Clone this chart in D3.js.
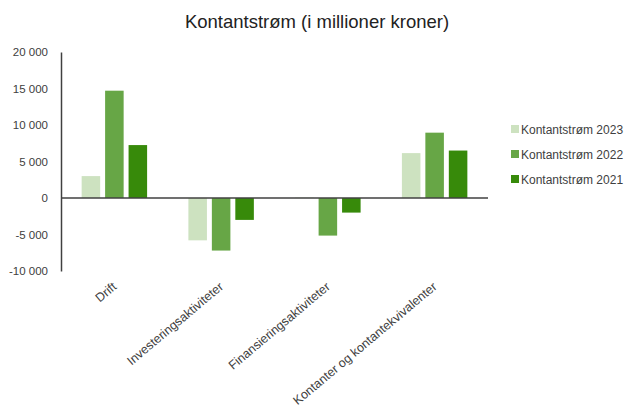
<!DOCTYPE html>
<html>
<head>
<meta charset="utf-8">
<script src="https://cdn.jsdelivr.net/npm/d3@7"></script>
<style>
  body { margin: 0; background: #fff; }
  text { font-family: "Liberation Sans", Arial, sans-serif; }
</style>
</head>
<body>
<svg id="chart" width="627" height="407"></svg>
<script>
var categories = ["Drift", "Investeringsaktiviteter", "Finansieringsaktiviteter", "Kontanter og kontantekvivalenter"];
var seriesNames = ["Kontantstrøm 2023", "Kontantstrøm 2022", "Kontantstrøm 2021"];
var values2023 = [3000, -5800, 50, 6150];
var values2022 = [14700, -7200, -5150, 8950];
var values2021 = [7250, -3000, -2000, 6500];
var yTicks = [-10000, -5000, 0, 5000, 10000, 15000, 20000];
var colors = ["#cde2c0", "#67a646", "#378a0a"];

var series = [values2023, values2022, values2021];

var svg = d3.select("#chart");
var margin = {top: 52, left: 61, right: 139, bottom: 136};
var w = 627 - margin.left - margin.right;
var h = 407 - margin.top - margin.bottom;

var g = svg.append("g").attr("transform", "translate(" + margin.left + "," + margin.top + ")");

var x0 = d3.scaleBand().domain(categories).range([0, w]).padding(0);
var x1 = d3.scaleBand().domain(d3.range(series.length)).range([0, x0.bandwidth()])
  .paddingInner(0.21).paddingOuter(0.88);
var y = d3.scaleLinear().domain([-10000, 20000]).range([h, 0]);

var fmt = function(d) { return d3.format(",")(d).replace(/,/g, " ").replace("−", "-"); };

// y axis
var yAxis = g.append("g").call(d3.axisLeft(y).tickValues(yTicks).tickSize(0).tickPadding(13).tickFormat(fmt));
yAxis.select(".domain").attr("stroke", "#404040").attr("stroke-width", 1.5);
yAxis.selectAll("text").attr("font-size", 11.5).attr("fill", "#404040");

// bars
var rows = [];
categories.forEach(function(c, i) {
  series.forEach(function(s, j) { rows.push({cat: c, s: j, v: s[i]}); });
});
g.selectAll("rect.bar").data(rows).enter().append("rect")
  .attr("class", "bar")
  .attr("x", function(d) { return x0(d.cat) + x1(d.s); })
  .attr("width", x1.bandwidth())
  .attr("y", function(d) { return y(Math.max(0, d.v)); })
  .attr("height", function(d) { return Math.abs(y(d.v) - y(0)); })
  .attr("fill", function(d) { return colors[d.s]; });

// zero line
g.append("line").attr("x1", 0).attr("x2", w).attr("y1", y(0)).attr("y2", y(0))
  .attr("stroke", "#404040").attr("stroke-width", 1.5);

// category labels
g.selectAll("text.cat").data(categories).enter().append("text")
  .attr("class", "cat")
  .attr("transform", function(d) {
    return "translate(" + (x0(d) + x0.bandwidth() / 2 + 3) + "," + (h + 17) + ") rotate(-40)";
  })
  .attr("text-anchor", "end")
  .attr("font-size", 12.5)
  .attr("fill", "#404040")
  .text(function(d) { return d; });

// title
svg.append("text").attr("x", 317).attr("y", 28).attr("text-anchor", "middle")
  .attr("font-size", 18.5).attr("fill", "#222").text("Kontantstrøm (i millioner kroner)");

// legend
var leg = svg.selectAll("g.leg").data(seriesNames).enter().append("g")
  .attr("class", "leg")
  .attr("transform", function(d, i) { return "translate(511," + (129 + i * 25) + ")"; });
leg.append("rect").attr("x", 0).attr("y", -4).attr("width", 8).attr("height", 8)
  .attr("fill", function(d, i) { return colors[i]; });
leg.append("text").attr("x", 10).attr("y", 4.5).attr("font-size", 12).attr("fill", "#404040")
  .text(function(d) { return d; });
</script>
</body>
</html>
